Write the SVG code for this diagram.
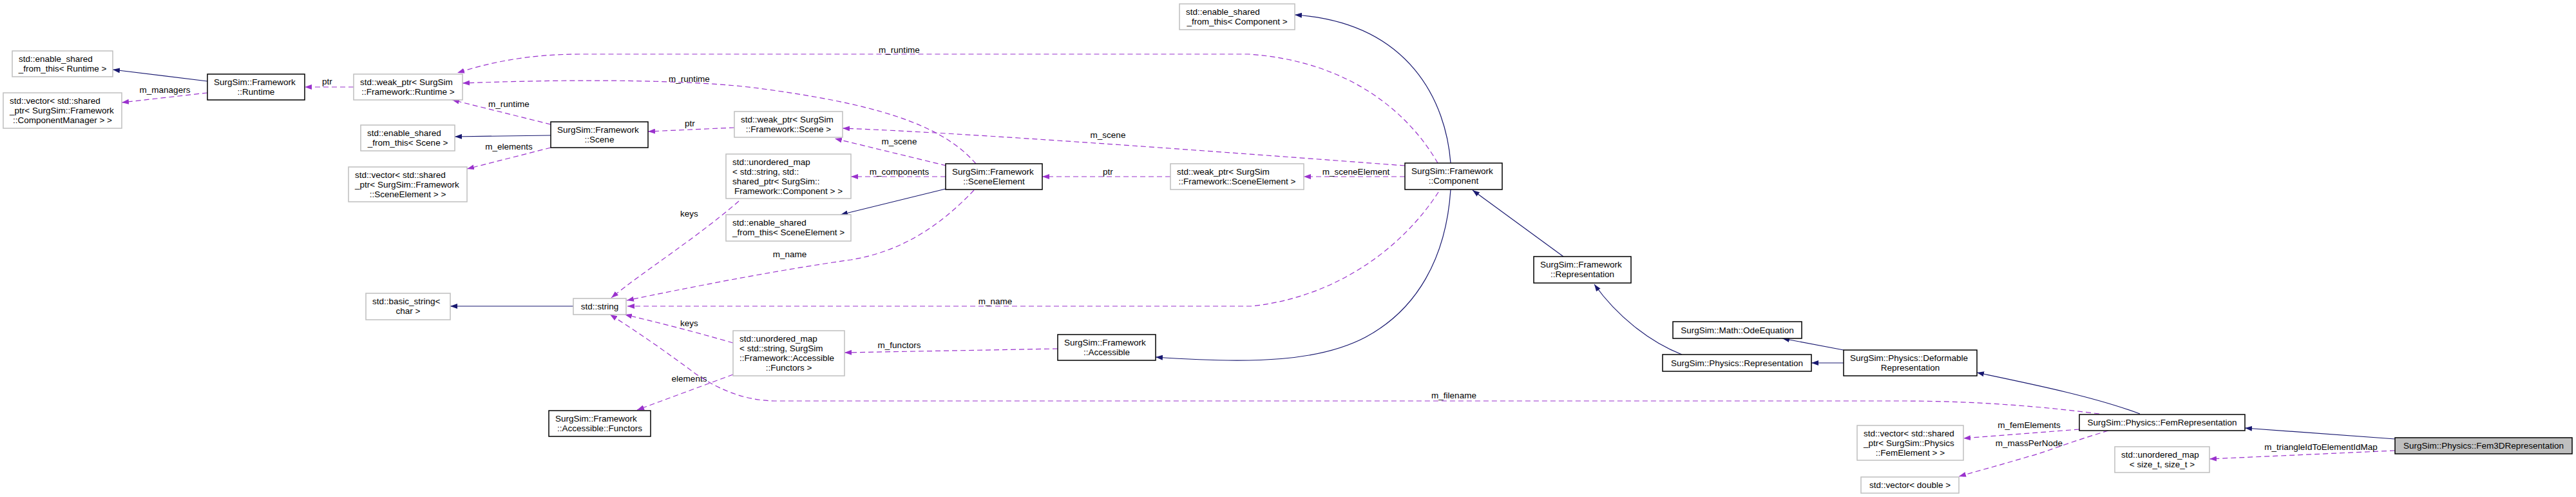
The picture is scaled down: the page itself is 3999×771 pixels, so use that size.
<svg xmlns="http://www.w3.org/2000/svg" width="3999" height="771" viewBox="0 0 3999 771">
<style>
text{font-family:"Liberation Sans",Arial,sans-serif;font-size:13.5px;fill:#000}
.c{text-anchor:middle}
.ext rect{fill:#fff;stroke:#bfbfbf;stroke-width:1.5}
.cls rect{fill:#fff;stroke:#000;stroke-width:1.5}
.cur rect{fill:#bfbfbf;stroke:#000;stroke-width:1.5}
.inh{fill:none;stroke:#191970;stroke-width:1.2;marker-end:url(#an)}
.use{fill:none;stroke:#9a32cd;stroke-width:1.2;stroke-dasharray:8,5;marker-end:url(#ap)}
.lbl{text-anchor:middle}
</style>
<defs>
<marker id="an" viewBox="0 0 11 8" refX="11" refY="4" markerWidth="11" markerHeight="8" markerUnits="userSpaceOnUse" orient="auto"><path d="M0,0 L11,4 L0,8 z" fill="#191970" stroke="none"/></marker>
<marker id="ap" viewBox="0 0 11 8" refX="11" refY="4" markerWidth="11" markerHeight="8" markerUnits="userSpaceOnUse" orient="auto"><path d="M0,0 L11,4 L0,8 z" fill="#9a32cd" stroke="none"/></marker>
</defs>
<rect width="3999" height="771" fill="#fff"/>

<g id="connectors">
<path class="inh" d="M322,126 L175,108"/>
<path class="inh" d="M855,210 L706,212"/>
<path class="inh" d="M1468,293 L1305,333"/>
<path class="inh" d="M890,475 L699,475"/>
<path class="inh" d="M2252,253 C2245,160 2190,35 2010,23"/>
<path class="inh" d="M2252,294 C2245,400 2200,480 2120,523 C2050,560 1950,565 1794,554"/>
<path class="inh" d="M2427,398 L2286,295"/>
<path class="inh" d="M2611,550 C2560,530 2510,490 2475,441"/>
<path class="inh" d="M2862,543 L2767,525"/>
<path class="inh" d="M2862,563 L2812,563"/>
<path class="inh" d="M3322,642 C3250,615 3150,595 3069,578"/>
<path class="inh" d="M3718,681 L3485,664"/>

<path class="use" d="M322,144 L189,159"/>
<text class="lbl" x="256" y="144">m_managers</text>
<path class="use" d="M549,135 L473,135"/>
<text class="lbl" x="508" y="131">ptr</text>
<path class="use" d="M2232,253 C2190,180 2100,95 1938,84 L901,84 C820,84 760,97 710,113"/>
<text class="lbl" x="1396" y="82">m_runtime</text>
<path class="use" d="M1515,254 C1460,190 1350,160 1178,137 C1080,124 900,122 718,129"/>
<text class="lbl" x="1070" y="127">m_runtime</text>
<path class="use" d="M855,193 L702,155"/>
<text class="lbl" x="790" y="166">m_runtime</text>
<path class="use" d="M1140,198 L1006,204"/>
<text class="lbl" x="1071" y="196">ptr</text>
<path class="use" d="M855,229 L725,262"/>
<text class="lbl" x="790" y="232">m_elements</text>
<path class="use" d="M2181,257 C1900,236 1500,206 1308,199"/>
<text class="lbl" x="1720" y="214">m_scene</text>
<path class="use" d="M1469,257 L1296,215"/>
<text class="lbl" x="1396" y="224">m_scene</text>
<path class="use" d="M1468,274 L1321,274"/>
<text class="lbl" x="1396" y="271">m_components</text>
<path class="use" d="M1147,312 C1080,370 1000,420 949,462"/>
<text class="lbl" x="1070" y="336">keys</text>
<path class="use" d="M1512,295 C1460,350 1400,390 1321,403 C1200,420 1060,448 973,466"/>
<text class="lbl" x="1226" y="399">m_name</text>
<path class="use" d="M1817,274 L1618,274"/>
<text class="lbl" x="1720" y="271">ptr</text>
<path class="use" d="M2181,274 L2024,274"/>
<text class="lbl" x="2105" y="271">m_sceneElement</text>
<path class="use" d="M2233,298 C2180,380 2080,460 1943,475 L974,475"/>
<text class="lbl" x="1545" y="472">m_name</text>
<path class="use" d="M1138,532 C1080,515 1020,500 970,488"/>
<text class="lbl" x="1070" y="506">keys</text>
<path class="use" d="M1642,541 L1311,547"/>
<text class="lbl" x="1396" y="540">m_functors</text>
<path class="use" d="M1138,581 L989,636"/>
<text class="lbl" x="1070" y="592">elements</text>
<path class="use" d="M3259,642 C3150,628 3050,622 2950,622 L1207,622 C1150,622 1110,600 1080,580 C1040,550 990,515 947,488"/>
<text class="lbl" x="2257" y="618">m_filename</text>
<path class="use" d="M3228,666 L3048,680"/>
<text class="lbl" x="3150" y="664">m_femElements</text>
<path class="use" d="M3273,668 C3200,690 3180,700 3150,708 C3110,720 3080,728 3041,739"/>
<text class="lbl" x="3150" y="692">m_massPerNode</text>
<path class="use" d="M3718,699 L3430,712"/>
<text class="lbl" x="3603" y="698">m_triangleIdToElementIdMap</text>
</g>

<g id="n_enable_runtime" class="ext"><rect x="19" y="79" width="156" height="40"/><text x="29" y="96">std::enable_shared</text><text class="c" x="97" y="111">_from_this&lt; Runtime &gt;</text></g>
<g id="n_vector_cm" class="ext"><rect x="5" y="144" width="184" height="55"/><text x="15" y="161">std::vector&lt; std::shared</text><text x="15" y="176">_ptr&lt; SurgSim::Framework</text><text class="c" x="97" y="191">::ComponentManager &gt; &gt;</text></g>
<g id="n_runtime" class="cls"><rect x="322" y="115" width="151" height="40"/><text x="332" y="132">SurgSim::Framework</text><text class="c" x="397.5" y="147">::Runtime</text></g>
<g id="n_weak_runtime" class="ext"><rect x="549" y="115" width="169" height="40"/><text x="559" y="132">std::weak_ptr&lt; SurgSim</text><text class="c" x="633.5" y="147">::Framework::Runtime &gt;</text></g>
<g id="n_enable_scene" class="ext"><rect x="560" y="194" width="146" height="40"/><text x="570" y="211">std::enable_shared</text><text class="c" x="633" y="226">_from_this&lt; Scene &gt;</text></g>
<g id="n_vector_se" class="ext"><rect x="541" y="259" width="184" height="54"/><text x="551" y="276">std::vector&lt; std::shared</text><text x="551" y="291">_ptr&lt; SurgSim::Framework</text><text class="c" x="633" y="306">::SceneElement &gt; &gt;</text></g>
<g id="n_basic_string" class="ext"><rect x="568" y="455" width="131" height="41"/><text x="578" y="472">std::basic_string&lt;</text><text class="c" x="633.5" y="487">char &gt;</text></g>
<g id="n_scene" class="cls"><rect x="855" y="189" width="151" height="40"/><text x="865" y="206">SurgSim::Framework</text><text class="c" x="930.5" y="221">::Scene</text></g>
<g id="n_string" class="ext"><rect x="890" y="463" width="82" height="25"/><text class="c" x="931" y="480">std::string</text></g>
<g id="n_functors" class="cls"><rect x="852" y="637" width="158" height="40"/><text x="862" y="654">SurgSim::Framework</text><text class="c" x="931" y="669">::Accessible::Functors</text></g>
<g id="n_weak_scene" class="ext"><rect x="1140" y="173" width="168" height="40"/><text x="1150" y="190">std::weak_ptr&lt; SurgSim</text><text class="c" x="1224" y="205">::Framework::Scene &gt;</text></g>
<g id="n_umap_component" class="ext"><rect x="1127" y="239" width="194" height="69"/><text x="1137" y="256">std::unordered_map</text><text x="1137" y="271">&lt; std::string, std::</text><text x="1137" y="286">shared_ptr&lt; SurgSim::</text><text class="c" x="1224" y="301">Framework::Component &gt; &gt;</text></g>
<g id="n_enable_se" class="ext"><rect x="1127" y="333" width="194" height="41"/><text x="1137" y="350">std::enable_shared</text><text class="c" x="1224" y="365">_from_this&lt; SceneElement &gt;</text></g>
<g id="n_umap_functors" class="ext"><rect x="1138" y="513" width="173" height="70"/><text x="1148" y="530">std::unordered_map</text><text x="1148" y="545">&lt; std::string, SurgSim</text><text x="1148" y="560">::Framework::Accessible</text><text class="c" x="1224.5" y="575">::Functors &gt;</text></g>
<g id="n_sceneelement" class="cls"><rect x="1468" y="254" width="150" height="40"/><text x="1478" y="271">SurgSim::Framework</text><text class="c" x="1543" y="286">::SceneElement</text></g>
<g id="n_accessible" class="cls"><rect x="1642" y="519" width="152" height="40"/><text x="1652" y="536">SurgSim::Framework</text><text class="c" x="1718" y="551">::Accessible</text></g>
<g id="n_enable_component" class="ext"><rect x="1831" y="6" width="179" height="40"/><text x="1841" y="23">std::enable_shared</text><text class="c" x="1920.5" y="38">_from_this&lt; Component &gt;</text></g>
<g id="n_weak_se" class="ext"><rect x="1817" y="254" width="207" height="40"/><text x="1827" y="271">std::weak_ptr&lt; SurgSim</text><text class="c" x="1920.5" y="286">::Framework::SceneElement &gt;</text></g>
<g id="n_component" class="cls"><rect x="2181" y="253" width="151" height="41"/><text x="2191" y="270">SurgSim::Framework</text><text class="c" x="2256.5" y="285">::Component</text></g>
<g id="n_fw_representation" class="cls"><rect x="2381" y="398" width="151" height="41"/><text x="2391" y="415">SurgSim::Framework</text><text class="c" x="2456.5" y="430">::Representation</text></g>
<g id="n_odeequation" class="cls"><rect x="2597" y="499" width="200" height="26"/><text class="c" x="2697" y="516.5">SurgSim::Math::OdeEquation</text></g>
<g id="n_phys_representation" class="cls"><rect x="2581" y="550" width="231" height="26"/><text class="c" x="2696.5" y="567.5">SurgSim::Physics::Representation</text></g>
<g id="n_deformable" class="cls"><rect x="2862" y="543" width="207" height="40"/><text x="2872" y="560">SurgSim::Physics::Deformable</text><text class="c" x="2965.5" y="575">Representation</text></g>
<g id="n_vector_femelement" class="ext"><rect x="2883" y="660" width="165" height="54"/><text x="2893" y="677">std::vector&lt; std::shared</text><text x="2893" y="692">_ptr&lt; SurgSim::Physics</text><text class="c" x="2965.5" y="707">::FemElement &gt; &gt;</text></g>
<g id="n_vector_double" class="ext"><rect x="2889" y="740" width="152" height="25"/><text class="c" x="2965" y="757">std::vector&lt; double &gt;</text></g>
<g id="n_femrepresentation" class="cls"><rect x="3228" y="643" width="257" height="25"/><text class="c" x="3356.5" y="660">SurgSim::Physics::FemRepresentation</text></g>
<g id="n_umap_size" class="ext"><rect x="3283" y="693" width="147" height="40"/><text x="3293" y="710">std::unordered_map</text><text class="c" x="3356.5" y="725">&lt; size_t, size_t &gt;</text></g>
<g id="n_fem3d" class="cur"><rect x="3718" y="679" width="275" height="25"/><text class="c" x="3855.5" y="696">SurgSim::Physics::Fem3DRepresentation</text></g>
</svg>
